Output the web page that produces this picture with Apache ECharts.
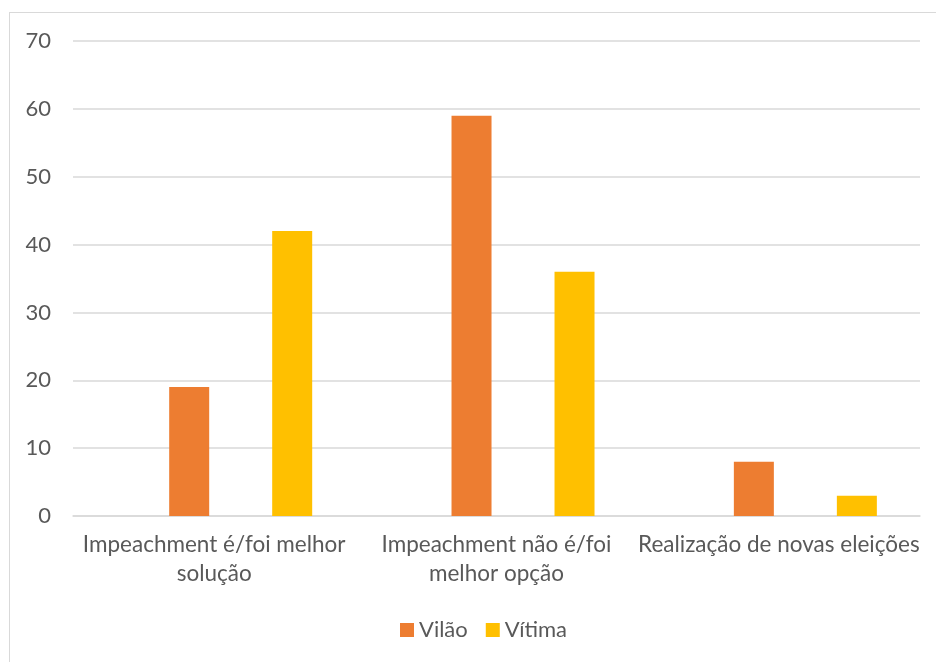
<!DOCTYPE html>
<html>
<head>
<meta charset="utf-8">
<script src="https://cdn.jsdelivr.net/npm/echarts@6/dist/echarts.min.js"></script>
<style>
  html, body { margin: 0; padding: 0; background: #fff; overflow: hidden; }
  #frame { position: absolute; left: 9px; top: 12px; width: 1000px; height: 700px;
           border: 1.5px solid #d9d9d9; box-sizing: border-box; }
  #chart { position: absolute; left: 0; top: 0; width: 936px; height: 662px; }
</style>
</head>
<body>
<div id="frame"></div>
<div id="chart"></div>
<script>
// Survey answers grouped by how the respondent sees the president
const categories = [
  'Impeachment é/foi melhor solução',
  'Impeachment não é/foi melhor opção',
  'Realização de novas eleições'
];
// category labels as they are printed under the axis, with their line breaks
const tickLabels = [
  'Impeachment é/foi melhor\nsolução',
  'Impeachment não é/foi\nmelhor opção',
  'Realização de novas eleições'
];
const vilao = [19, 59, 8];
const vitima = [42, 36, 3];
const yTicks = { min: 0, max: 70, interval: 10 };

const FONT = 'Lato';
const TEXT = '#595959';

const chart = echarts.init(document.getElementById('chart'), null, { renderer: 'canvas' });
chart.setOption({
  animation: false,
  backgroundColor: 'transparent',
  textStyle: { fontFamily: FONT },
  grid: { left: 73, right: 16, top: 41, bottom: 146, containLabel: false },
  legend: {
    data: ['Vilão', 'Vítima'],
    top: 619,
    left: 400,
    padding: 0,
    itemWidth: 14,
    itemHeight: 14,
    itemGap: 18,
    icon: 'rect',
    textStyle: { color: TEXT, fontSize: 22, fontFamily: FONT }
  },
  xAxis: {
    type: 'category',
    data: categories,
    axisLine: { lineStyle: { color: '#d9d9d9', width: 1.5 } },
    axisTick: { show: false },
    axisLabel: {
      color: TEXT, fontSize: 22.5, fontFamily: FONT, margin: 14,
      lineHeight: 29, interval: 0, hideOverlap: false,
      formatter: (value, index) => tickLabels[index]
    }
  },
  yAxis: {
    type: 'value',
    min: yTicks.min, max: yTicks.max, interval: yTicks.interval,
    axisLine: { show: false },
    axisTick: { show: false },
    axisLabel: { color: TEXT, fontSize: 22, fontFamily: FONT, margin: 22 },
    splitLine: { lineStyle: { color: '#d9d9d9', width: 1.5 } }
  },
  series: [
    {
      // empty leading slot that sets the spacing of the two visible bars
      name: '',
      type: 'bar',
      data: categories.map(() => null),
      barWidth: 20.6,
      barGap: '157.5%',
      silent: true
    },
    {
      name: 'Vilão',
      type: 'bar',
      data: vilao,
      barWidth: 40,
      barGap: '157.5%',
      itemStyle: { color: '#ED7D31' }
    },
    {
      name: 'Vítima',
      type: 'bar',
      data: vitima,
      barWidth: 40,
      barGap: '157.5%',
      itemStyle: { color: '#FFC000' }
    }
  ]
});
</script>
</body>
</html>
